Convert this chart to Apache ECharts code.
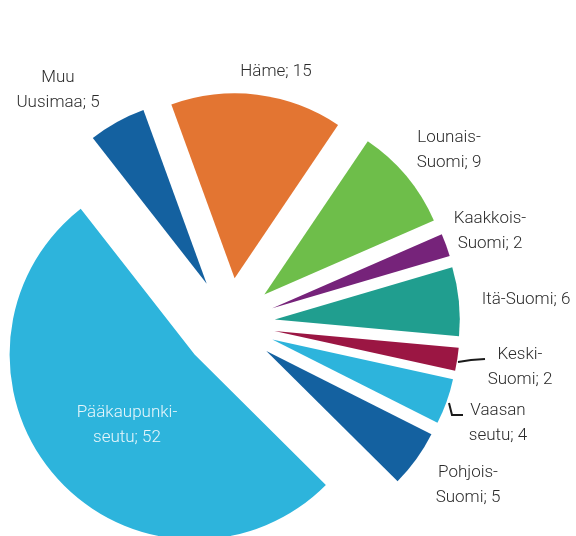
<!DOCTYPE html>
<html>
<head>
<meta charset="utf-8">
<script src="https://cdn.jsdelivr.net/npm/echarts@6/dist/echarts.min.js"></script>
<style>
html,body{margin:0;padding:0;background:#fff;}
#chart{width:576px;height:536px;}
</style>
</head>
<body>
<div id="chart"></div>
<script>
// Data (clockwise from the top-left)
var categories = ['Muu\nUusimaa', 'Häme', 'Lounais-\nSuomi', 'Kaakkois-\nSuomi', 'Itä-Suomi', 'Keski-\nSuomi', 'Vaasan\nseutu', 'Pohjois-\nSuomi', 'Pääkaupunki-\nseutu'];
var values = [5, 15, 9, 2, 6, 2, 4, 5, 52];

// Styling / label placement
var colors = ['#1461A0', '#E37532', '#6EBE4A', '#76237A', '#209E8F', '#9B1643', '#2DB4DC', '#1461A0', '#2DB4DC'];
var labelAnchors = [
  [58, 90], [276, 72], [449, 150], [490, 231], [526, 300],
  [520, 367], [498, 423], [468, 485], [127, 425]
];
var leaderLines = [
  [[458, 362], [471, 360], [485, 359]],
  [[449, 403], [452, 415], [463, 415]]
];

var chart = echarts.init(document.getElementById('chart'));
var seriesData = categories.map(function (name, i) {
  return {
    name: name,
    value: values[i],
    selected: true,
    itemStyle: { color: colors[i] }
  };
});

var graphics = categories.map(function (name, i) {
  return {
    type: 'text',
    z: 10,
    silent: true,
    style: {
      text: name + '; ' + values[i],
      x: labelAnchors[i][0],
      y: labelAnchors[i][1],
      align: 'center',
      verticalAlign: 'middle',
      lineHeight: 25,
      fontFamily: 'Roboto',
      fontWeight: 300,
      fontSize: 17,
      fill: i === 8 ? '#e8f6fb' : '#2b2b2b'
    }
  };
});
leaderLines.forEach(function (pts) {
  graphics.push({
    type: 'polyline',
    z: 10,
    silent: true,
    shape: { points: pts },
    style: { stroke: '#1a1a1a', lineWidth: 2, fill: null }
  });
});

chart.setOption({
  animation: false,
  graphic: { elements: graphics },
  series: [{
    type: 'pie',
    center: [229, 324],
    radius: [0, 185],
    startAngle: 128,
    clockwise: true,
    selectedMode: 'multiple',
    selectedOffset: 46,
    emphasis: { disabled: true },
    data: seriesData,
    label: { show: false },
    labelLine: { show: false }
  }]
});
</script>
</body>
</html>
